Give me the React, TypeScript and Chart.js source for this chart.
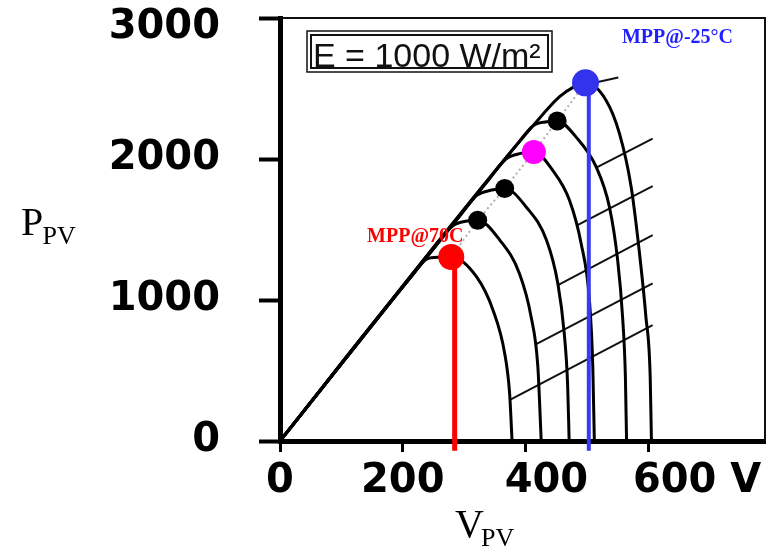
import React, { useEffect, useRef } from 'react';
import { Chart, registerables } from 'chart.js';

Chart.register(...registerables);

// ---- axis ticks ----
const xTickValues = [0, 200, 400, 600];
const xTickLabels = ['0', '200', '   400', '       600 V'];
const yTickValues = [0, 1000, 2000, 3000];
const yTickLabels: (string | string[])[] = ['0', '1000', '2000', ['', '3000']];

// ---- P-V curves (V in volts, P in watts), hottest (70 °C) to coldest (-25 °C) ----
const curve1V = [0, 215, 240, 260, 279, 320, 347, 366, 374, 378];
const curve1P = [0, 1172, 1292, 1303, 1305, 1165, 928, 621, 338, 0];
const curve2V = [0, 255, 281, 302, 322, 358, 390, 409, 420, 425.5];
const curve2P = [0, 1390, 1525, 1558, 1566, 1425, 1188, 881, 527, 0];
const curve3V = [0, 295, 320, 345, 366, 401, 434, 452.5, 463, 468.5, 471];
const curve3P = [0, 1608, 1740, 1780, 1791, 1660, 1425, 1118, 763, 400, 0];
const curve4V = [0, 340, 368, 392, 413.5, 444, 471.5, 490.5, 504, 509.5, 512];
const curve4P = [0, 1853, 2000, 2040, 2050, 1921, 1708, 1401, 999, 527, 0];
const curve5V = [0, 390, 412, 432, 451.5, 482, 515, 536.6, 550, 558, 562.6, 564.5];
const curve5P = [0, 2125, 2235, 2263, 2270, 2157, 1944, 1660, 1283, 881, 456, 0];
const curve6V = [0, 375, 410, 455, 478, 497.6, 531, 553, 572, 585, 596, 603, 605];
const curve6P = [0, 2044, 2225, 2440, 2510, 2540, 2417, 2180, 1802, 1354, 881, 456, 0];

// ---- maximum power points ----
const mppV = [279, 322, 366, 413.5, 451.5, 497.6];
const mppP = [1305, 1566, 1791, 2050, 2270, 2540];

// ---- thin diagonal lines on the right ----
const hatchStartV = [503, 516, 483, 452, 415, 374.5];
const hatchStartP = [2532, 1940, 1527, 1104, 682, 292];
const hatchEndV = [551, 607, 607, 607, 607, 607];
const hatchEndP = [2578, 2145, 1807, 1460, 1118, 822];

// ---- vertical MPP voltage markers (70 °C red, -25 °C blue) ----
const markerV = [284.5, 503];
const markerTopP = [1305, 2540];
const markerBottomP = -70;

// ---- texts ----
const irradianceText = 'E = 1000 W/m²';
const hotLabel = 'MPP@70C';
const coldLabel = 'MPP@-25°C';

const pts = (vs: number[], ps: number[]) => vs.map((v, i) => ({ x: v, y: ps[i] }));

const decorPlugin = {
  id: 'decor',
  afterDraw(chart: any) {
    const { ctx, chartArea: a, scales } = chart;
    const xs = scales.x;
    const ys = scales.y;
    ctx.save();
    // frame top/right
    ctx.strokeStyle = '#111';
    ctx.lineWidth = 2;
    ctx.beginPath();
    ctx.moveTo(a.left, a.top);
    ctx.lineTo(a.right, a.top);
    ctx.lineTo(a.right, a.bottom);
    ctx.stroke();

    // irradiance box
    const bx = a.left + 27;
    const by = a.top + 13;
    ctx.lineWidth = 1.5;
    ctx.strokeRect(bx, by, 245, 41);
    ctx.lineWidth = 2;
    ctx.strokeRect(bx + 4, by + 4, 237, 33);
    ctx.fillStyle = '#111';
    ctx.font = '34px "Liberation Sans", Arial, sans-serif';
    ctx.textAlign = 'left';
    ctx.textBaseline = 'alphabetic';
    ctx.fillText(irradianceText, bx + 6, by + 36);

    // MPP labels
    ctx.font = 'bold 20px "Liberation Serif", "Times New Roman", serif';
    ctx.textAlign = 'center';
    ctx.fillStyle = '#ff0000';
    ctx.fillText(hotLabel, xs.getPixelForValue(mppV[0]) - 36, ys.getPixelForValue(mppP[0]) - 15);
    ctx.fillStyle = '#1f1fff';
    ctx.fillText(coldLabel, xs.getPixelForValue(mppV[5]) + 92, ys.getPixelForValue(mppP[5]) - 40);

    // axis titles with subscripts
    ctx.fillStyle = '#000';
    ctx.textAlign = 'left';
    ctx.font = '40px "Liberation Serif", "Times New Roman", serif';
    ctx.fillText('P', 21, 235);
    ctx.fillText('V', 455, 537);
    ctx.font = '26px "Liberation Serif", "Times New Roman", serif';
    ctx.fillText('PV', 42.5, 244);
    ctx.fillText('PV', 481, 546);
    ctx.restore();
  },
};

const noPad = (s: any) => {
  s.paddingTop = 0;
  s.paddingBottom = 0;
  s.paddingLeft = 0;
  s.paddingRight = 0;
};

export default function App() {
  const canvasRef = useRef<HTMLCanvasElement | null>(null);

  useEffect(() => {
    if (!canvasRef.current) return;
    const curves = [
      [curve1V, curve1P],
      [curve2V, curve2P],
      [curve3V, curve3P],
      [curve4V, curve4P],
      [curve5V, curve5P],
      [curve6V, curve6P],
    ];
    const datasets: any[] = [];

    // dots (top-most)
    const dot = (i: number, color: string, r: number) => ({
      data: [{ x: mppV[i], y: mppP[i] }],
      showLine: false,
      pointRadius: r,
      pointBackgroundColor: color,
      pointBorderWidth: 0,
      order: 0,
      clip: false,
    });
    datasets.push(dot(0, '#ff0000', 13));
    datasets.push(dot(3, '#ff00ff', 12));
    datasets.push(dot(5, '#3333ee', 13.5));
    datasets.push(dot(1, '#000000', 9.5));
    datasets.push(dot(2, '#000000', 9.5));
    datasets.push(dot(4, '#000000', 9.5));

    // vertical markers
    const markerColors = ['#ff0000', '#3a3af2'];
    const markerWidths = [5, 4];
    markerV.forEach((v, i) => {
      datasets.push({
        data: [{ x: v, y: markerTopP[i] }, { x: v, y: markerBottomP }],
        borderColor: markerColors[i],
        borderWidth: markerWidths[i],
        pointRadius: 0,
        order: 1,
        clip: false,
      });
    });

    // P-V curves
    curves.forEach(([vs, ps]) => {
      datasets.push({
        data: pts(vs, ps),
        borderColor: '#000',
        borderWidth: 3,
        pointRadius: 0,
        cubicInterpolationMode: 'monotone',
        order: 2,
      });
    });

    // hatch lines
    hatchStartV.forEach((v, i) => {
      datasets.push({
        data: [{ x: v, y: hatchStartP[i] }, { x: hatchEndV[i], y: hatchEndP[i] }],
        borderColor: '#111',
        borderWidth: 2,
        pointRadius: 0,
        order: 3,
      });
    });

    // dotted MPP locus
    datasets.push({
      data: pts(mppV, mppP),
      borderColor: '#b0b0b0',
      borderWidth: 2,
      borderDash: [2, 3],
      pointRadius: 0,
      order: 4,
    });

    const chart = new Chart(canvasRef.current, {
      type: 'line',
      data: { datasets },
      plugins: [decorPlugin],
      options: {
        animation: false,
        responsive: true,
        maintainAspectRatio: false,
        devicePixelRatio: 1,
        events: [],
        layout: { autoPadding: false, padding: { top: 18, right: 3, left: 0, bottom: 0 } },
        plugins: {
          legend: { display: false },
          tooltip: { enabled: false },
          title: { display: false },
        },
        scales: {
          x: {
            type: 'linear',
            min: 0,
            max: 790,
            afterBuildTicks: (s: any) => {
              s.ticks = xTickValues.map((v) => ({ value: v }));
            },
            afterFit: (s: any) => {
              s.height = 112;
              noPad(s);
            },
            ticks: {
              autoSkip: false,
              maxRotation: 0,
              padding: 10,
              color: '#000',
              font: { family: '"DejaVu Sans", sans-serif', weight: 'bold', size: 40, lineHeight: 1 },
              callback: (v: any) => xTickLabels[xTickValues.indexOf(Number(v))] ?? '',
            },
            grid: { drawOnChartArea: false, tickLength: 11, tickWidth: 3, tickColor: '#000' },
            border: { display: true, color: '#000', width: 5 },
          },
          y: {
            type: 'linear',
            min: 0,
            max: 3000,
            afterBuildTicks: (s: any) => {
              s.ticks = yTickValues.map((v) => ({ value: v }));
            },
            afterFit: (s: any) => {
              s.width = 280;
              noPad(s);
            },
            ticks: {
              autoSkip: false,
              padding: 39,
              color: '#000',
              font: { family: '"DejaVu Sans", sans-serif', weight: 'bold', size: 40, lineHeight: 0.5 },
              callback: (v: any) => yTickLabels[yTickValues.indexOf(Number(v))] ?? '',
            },
            grid: { drawOnChartArea: false, tickLength: 21, tickWidth: 4, tickColor: '#000' },
            border: { display: true, color: '#000', width: 5 },
          },
        },
      } as any,
    });
    return () => chart.destroy();
  }, []);

  return (
    <div style={{ position: 'fixed', left: 0, top: 0, width: 768, height: 553, background: '#fff' }}>
      <canvas ref={canvasRef} />
    </div>
  );
}
